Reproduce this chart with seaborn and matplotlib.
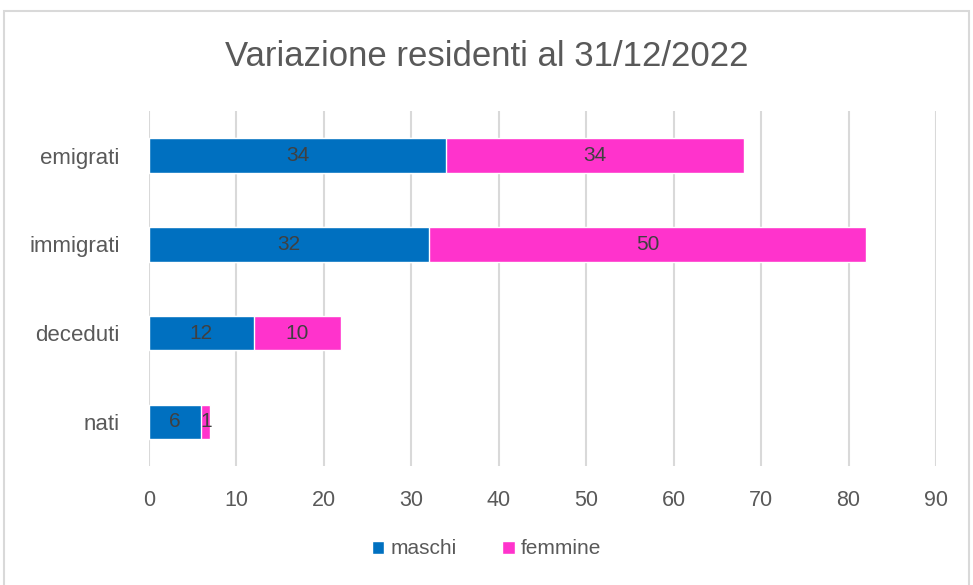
import seaborn as sns
import matplotlib.pyplot as plt
import pandas as pd
from matplotlib.patches import Rectangle, Patch

categorie = ["emigrati", "immigrati", "deceduti", "nati"]
maschi = [34, 32, 12, 6]
femmine = [34, 50, 10, 1]
tick_x = [0, 10, 20, 30, 40, 50, 60, 70, 80, 90]

blu = "#0070C0"
rosa = "#FF33CC"
grigio = "#595959"

sns.set_theme(style="white")
plt.rcParams['font.family'] = ['Liberation Sans', 'DejaVu Sans']

df = pd.DataFrame({"categoria": categorie, "maschi": maschi, "femmine": femmine})
df["totale"] = df["maschi"] + df["femmine"]

fig = plt.figure(figsize=(9.73, 5.85), dpi=100)
ax = fig.add_axes([0.153, 0.203, 0.809, 0.607])

# totale (rosa) sotto, maschi (blu) sopra -> barre impilate
sns.barplot(data=df, y="categoria", x="totale", color=rosa, width=0.39,
            saturation=1, ax=ax, zorder=2)
sns.barplot(data=df, y="categoria", x="maschi", color=blu, width=0.39,
            saturation=1, ax=ax, zorder=3)

n = len(categorie)
for i in range(n):
    m = df["maschi"][i]
    f = df["femmine"][i]
    ax.text(m / 2, i, str(m), ha="center", va="center", color="#404040",
            fontsize=15, zorder=4)
    ax.text(m + f / 2, i, str(f), ha="center", va="center", color="#404040",
            fontsize=15, zorder=4)

ax.set_xlim(0, 90)
ax.set_ylim(n - 0.5, -0.5)
ax.set_xticks(tick_x)
ax.set_xticklabels([str(t) for t in tick_x])
ax.xaxis.grid(True, color="#D9D9D9", linewidth=1.5, zorder=0)
ax.yaxis.grid(False)
ax.set_axisbelow(True)
for s in ax.spines.values():
    s.set_visible(False)
ax.set_xlabel("")
ax.set_ylabel("")
ax.tick_params(axis="both", length=0, labelsize=15.5, labelcolor=grigio)
ax.tick_params(axis="x", pad=17)
ax.tick_params(axis="y", labelsize=16, pad=21)

fig.suptitle("Variazione residenti al 31/12/2022", y=1 - 57 / 585, va="center",
             fontsize=25, color=grigio)

handles = [Patch(facecolor=blu, label="maschi"), Patch(facecolor=rosa, label="femmine")]
fig.legend(handles=handles, loc="center", bbox_to_anchor=(0.5, 1 - 549 / 585), ncol=2,
           frameon=False, fontsize=15, labelcolor=grigio, handlelength=0.6,
           handleheight=0.6, handletextpad=0.3, columnspacing=2.2)

fig.add_artist(Rectangle((4 / 973, -0.01), 965 / 973, 1 - 11 / 585 + 0.01,
                         transform=fig.transFigure, fill=False,
                         edgecolor="#D9D9D9", linewidth=1.5))

fig.savefig("out.png", dpi=100)
